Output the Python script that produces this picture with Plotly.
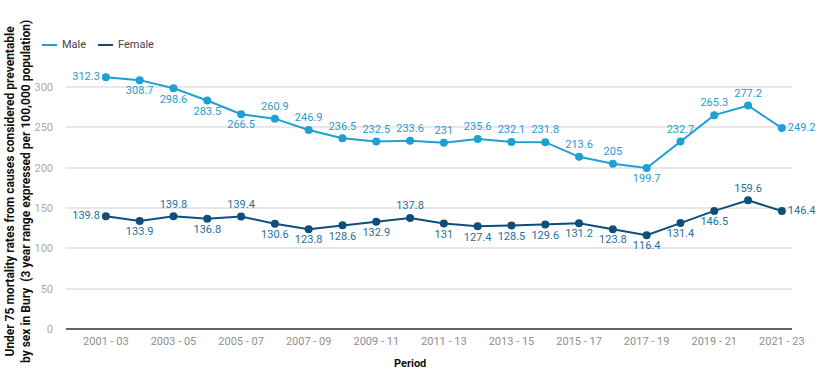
import plotly.graph_objects as go

periods = ["2001 - 03", "2002 - 04", "2003 - 05", "2004 - 06", "2005 - 07", "2006 - 08", "2007 - 09",
           "2008 - 10", "2009 - 11", "2010 - 12", "2011 - 13", "2012 - 14", "2013 - 15", "2014 - 16",
           "2015 - 17", "2016 - 18", "2017 - 19", "2018 - 20", "2019 - 21", "2020 - 22", "2021 - 23"]
male = [312.3, 308.7, 298.6, 283.5, 266.5, 260.9, 246.9, 236.5, 232.5, 233.6, 231, 235.6, 232.1,
        231.8, 213.6, 205, 199.7, 232.7, 265.3, 277.2, 249.2]
female = [139.8, 133.9, 139.8, 136.8, 139.4, 130.6, 123.8, 128.6, 132.9, 137.8, 131, 127.4, 128.5,
          129.6, 131.2, 123.8, 116.4, 131.4, 146.5, 159.6, 146.4]

male_pos = ["middle left", "bottom center", "bottom center", "bottom center", "bottom center",
            "top center", "top center", "top center", "top center", "top center", "top center",
            "top center", "top center", "top center", "top center", "top center", "bottom center",
            "top center", "top center", "top center", "middle right"]
female_pos = ["middle left", "bottom center", "top center", "bottom center", "top center",
              "bottom center", "bottom center", "bottom center", "bottom center", "top center",
              "bottom center", "bottom center", "bottom center", "bottom center", "bottom center",
              "bottom center", "bottom center", "bottom center", "bottom center", "top center",
              "middle right"]

x = list(range(len(periods)))
male_color = "#1ea0d4"
female_color = "#0d4f7a"

fig = go.Figure()
fig.add_trace(go.Scatter(
    x=x, y=male, name="Male", mode="lines+markers+text", showlegend=False,
    line=dict(color=male_color, width=2), marker=dict(size=8, color=male_color),
    text=[str(v) for v in male], textposition=male_pos,
    textfont=dict(color="#2a9bcc", size=11), cliponaxis=False))
fig.add_trace(go.Scatter(
    x=x, y=female, name="Female", mode="lines+markers+text", showlegend=False,
    line=dict(color=female_color, width=2), marker=dict(size=8, color=female_color),
    text=[str(v) for v in female], textposition=female_pos,
    textfont=dict(color="#2a6f9c", size=11), cliponaxis=False))

fig.update_layout(
    width=822, height=382,
    margin=dict(l=66, r=30, t=67, b=53),
    paper_bgcolor="white", plot_bgcolor="white",
    font=dict(family="Roboto", size=11, color="#999999"),
    showlegend=False,
    xaxis=dict(range=[-1.18, 20.3], tickmode="array", tickvals=x[::2], ticktext=periods[::2],
               showgrid=False, zeroline=False, showline=False, ticks="",
               tickfont=dict(size=11, color="#8f8f8f"), ticklabelstandoff=4),
    yaxis=dict(range=[0, 325], tickvals=[0, 50, 100, 150, 200, 250, 300], showgrid=True,
               gridcolor="#e8e8e8", gridwidth=1.5, zeroline=True, zerolinecolor="#666666",
               zerolinewidth=2, ticks="", tickfont=dict(size=11, color="#aaaaaa"), ticklabelstandoff=12),
)

# legend drawn manually (line samples without markers)
legend_items = [("Male", male_color, 42), ("Female", female_color, 98)]
for name, col, px in legend_items:
    x0 = (px - 66) / 726
    x1 = (px + 15 - 66) / 726
    yl = (329 - 45) / 262
    fig.add_shape(type="line", xref="paper", yref="paper", x0=x0, x1=x1, y0=yl, y1=yl,
                  line=dict(color=col, width=2))
    fig.add_annotation(text=name, xref="paper", yref="paper", x=(px + 18 - 66) / 726, y=yl,
                       xanchor="left", yanchor="middle", showarrow=False,
                       font=dict(size=11, color="#444444"))

fig.add_annotation(text="<b>Period</b>", xref="paper", yref="paper", x=(410 - 66) / 726,
                   y=-(363 - 329) / 262, xanchor="center", yanchor="middle",
                   showarrow=False, font=dict(size=11, color="#111111"))
fig.add_annotation(text="<b>Under 75 mortality rates from causes considered preventable<br>by sex in Bury  (3 year range expressed per 100,000 population)</b>",
                   xref="paper", yref="paper", x=(18 - 66) / 726, y=(329 - 192) / 262,
                   xanchor="center", yanchor="middle",
                   textangle=-90, showarrow=False, font=dict(size=12, color="#111111"))
fig.write_html("out.html", config={"displayModeBar": False},
               post_script="document.body.style.margin='0px';")
